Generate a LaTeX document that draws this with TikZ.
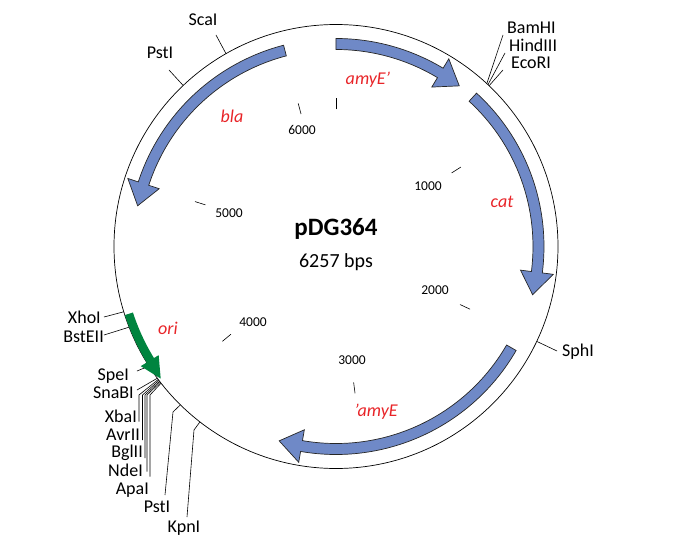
\documentclass[tikz,border=0pt]{standalone}
\usepackage{fontspec}
\setmainfont{Carlito}
\usepackage{tikz}
\usepackage{color}

\definecolor{geneblue}{RGB}{111,137,199}
\definecolor{origreen}{RGB}{0,132,63}
\definecolor{genered}{RGB}{232,36,40}

\tikzset{
  site/.style={font=\fontsize{18}{18}\selectfont, inner sep=1pt},
  siteline/.style={line width=0.6pt},
  ticklabel/.style={font=\fontsize{13.5}{13.5}\selectfont, inner sep=0pt},
  genename/.style={font=\fontsize{18}{18}\selectfont\itshape, text=genered},
  genebox/.style={fill=geneblue, draw=black!85, line width=0.7pt},
}

%% gene arrow, clockwise: start angle, tip angle
\newcommand{\genecw}[2]{%
  \pgfmathsetmacro{\hd}{#2+6.5}
  \draw[genebox] (#1:208) arc[start angle=#1, end angle=\hd, radius=208]
    -- (\hd:219) -- (#2:202.5) -- (\hd:186) -- (\hd:197)
    arc[start angle=\hd, end angle=#1, radius=197] -- cycle;}
%% gene arrow, counterclockwise
\newcommand{\geneccw}[2]{%
  \pgfmathsetmacro{\hd}{#2-6.5}
  \draw[genebox] (#1:208) arc[start angle=#1, end angle=\hd, radius=208]
    -- (\hd:219) -- (#2:202.5) -- (\hd:186) -- (\hd:197)
    arc[start angle=\hd, end angle=#1, radius=197] -- cycle;}

\begin{document}
\begin{tikzpicture}[x=1pt,y=1pt]
\useasboundingbox (-336,-297.5) rectangle (339,246.5);
\draw [line width=0.7pt] (0,0) circle (222);

%% ticks
\foreach \k in {0,...,6}
  \draw [line width=0.6pt] ({90-\k*57.5356}:137) -- ({90-\k*57.5356}:148);
\foreach \k/\p in {1/{(92,60.5)}, 2/{(99,-43.5)}, 3/{(16,-113.5)},
                   4/{(-83,-75.5)}, 5/{(-107,33.5)}, 6/{(-34,116.5)}}
  \node [ticklabel] (tick\k) at \p {\k000};

\node [font=\fontsize{25}{25}\selectfont\bfseries] (name) at (0,17.5) {pDG364};
\node [font=\fontsize{20}{20}\selectfont] (size) at (0,-15.5) {6257 bps};

%% genes
\genecw{90}{52.5}
\genecw{47.5}{-13.8}
\genecw{-30}{-106.3}
\geneccw{104.6}{168.4}

\node [genename] (amyEa) at (32,166.5) {amyE'};
\node [genename] (bla) at (-104,130.5) {bla};
\node [genename] (cat) at (166,44.5) {cat};
\node [genename] (ori) at (-168,-81.5) {ori};
\node [genename] (amyEb) at (40,-165.5) {'amyE};

%% sites
\coordinate (scaI) at (119.7:222);
\coordinate (pstIa) at (133.5:222);
\coordinate (bamHI) at (47.2:222);
\coordinate (hindIII) at (46.8:222);
\coordinate (ecoRI) at (46.4:222);
\coordinate (sphI) at (-25.3:222);
\coordinate (xhoI) at (197.1:222);
\coordinate (bstEII) at (201.3:222);
\coordinate (speI) at (212.6:222);
\coordinate (snaBI) at (216.4:222);
\coordinate (xbaI) at (216.8:222);
\coordinate (avrII) at (217.1:222);
\coordinate (bglII) at (217.4:222);
\coordinate (ndeI) at (217.7:222);
\coordinate (apaI) at (218.0:222);
\coordinate (pstIb) at (225.5:222);
\coordinate (kpnI) at (232.2:222);

\node [site] (scaIl) at (-133,226.5) {ScaI};
\node [site] (pstIal) at (-176,193.5) {PstI};
\node [site,anchor=west] (bamHIl) at (170,218.5) {BamHI};
\node [site,anchor=west] (hindIIIl) at (172,201.5) {HindIII};
\node [site,anchor=west] (ecoRIl) at (174,183.5) {EcoRI};
\node [site,anchor=west] (sphIl) at (225,-105.5) {SphI};
\node [site,anchor=east] (xhoIl) at (-234,-70.5) {XhoI};
\node [site,anchor=east] (bstEIIl) at (-231,-90.5) {BstEII};
\node [site,anchor=east] (speIl) at (-206,-129.5) {SpeI};
\node [site,anchor=east] (snaBIl) at (-201,-146.5) {SnaBI};
\node [site,anchor=east] (xbaIl) at (-198,-169.5) {XbaI};
\node [site,anchor=east] (avrIIl) at (-195,-188.5) {AvrII};
\node [site,anchor=east] (bglIIl) at (-192,-206.5) {BglII};
\node [site,anchor=east] (ndeIl) at (-192,-223.5) {NdeI};
\node [site,anchor=east] (apaIl) at (-186,-243.5) {ApaI};
\node [site] (pstIbl) at (-179,-260.5) {PstI};
\node [site] (kpnIl) at (-152,-281.5) {KpnI};

\draw [siteline] (scaI) -- (-120,211.5);
\draw [siteline] (pstIa) -- (-167,176.5);
\draw [siteline] (bamHI) -- (167,211.5);
\draw [siteline] (hindIII) -- (169,193.5);
\draw [siteline] (ecoRI) -- (167,176.5);
\draw [siteline] (sphI) -- (221,-104.5);
\draw [siteline] (xhoI) -- (-232,-70.5);
\draw [siteline] (bstEII) -- (-232,-88.5);
\draw [siteline] (speI) -- (-199,-124.5);
\draw [siteline] (snaBI) -- (-199,-143.5);
\draw [siteline] (xbaI) -- (-197,-148.5) -- (-197,-175);
\draw [siteline] (avrII) -- (-193.5,-148.5) -- (-193.5,-193.5);
\draw [siteline] (bglII) -- (-191,-148.5) -- (-191,-211.5);
\draw [siteline] (ndeI) -- (-189,-148.5) -- (-189,-225);
\draw [siteline] (apaI) -- (-186,-148.5) -- (-186,-230);
\draw [siteline] (pstIb) -- (-163,-165.5) -- (-171,-248.5);
\draw [siteline] (kpnI) -- (-142,-183.5) -- (-149,-270.5);

%% ori
\fill [origreen] (198:222) arc[start angle=198, end angle=211.5, radius=222]
  -- (211.5:229) -- (217:219.5) -- (211.5:208) -- (211.5:213.5)
  arc[start angle=211.5, end angle=198, radius=213.5] -- cycle;

\end{tikzpicture}
\end{document}
